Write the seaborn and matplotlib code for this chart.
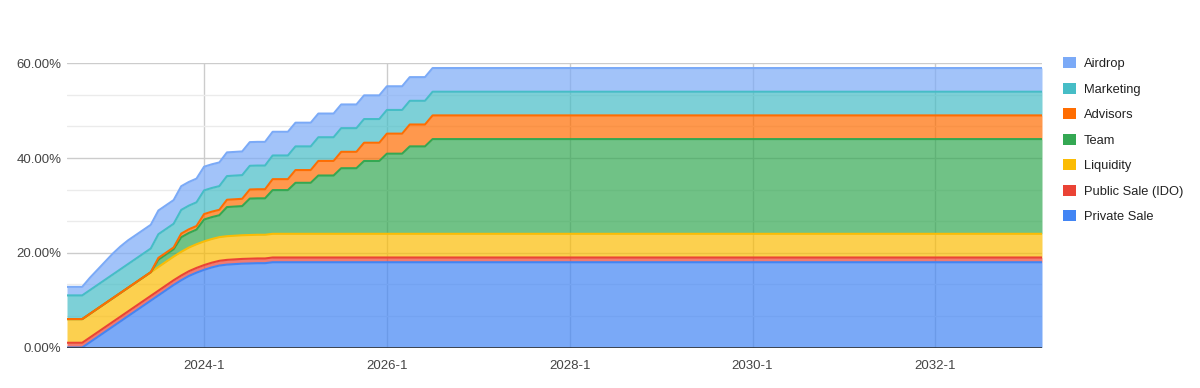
import numpy as np
import pandas as pd
import matplotlib
matplotlib.use("Agg")
import matplotlib.pyplot as plt
from matplotlib.patches import Patch
from matplotlib.ticker import FuncFormatter, MultipleLocator
import seaborn as sns

# Token unlock schedule, cumulative % of total supply per month (2022-7 .. 2033-3)
months = [f"{p.year}-{p.month}" for p in pd.period_range("2022-07", "2033-03", freq="M")]

private_sale = [0.0, 0.0, 0.0, 1.1, 2.2, 3.3, 4.4, 5.5, 6.6, 7.7, 8.8, 9.9,
                11.0, 12.1, 13.2, 14.2, 15.1, 15.8, 16.4, 16.9, 17.3, 17.5, 17.6, 17.7,
                17.75, 17.8, 17.8] + [18.0] * 102
public_sale = [1.0] * 129
liquidity = [5.0] * 129
team = ([0.0] * 12 + [1.54] * 3 + [3.08] * 3 + [4.62] * 3 + [6.15] * 3 + [7.69] * 3
        + [9.23] * 3 + [10.77] * 3 + [12.31] * 3 + [13.85] * 3 + [15.38] * 3
        + [16.92] * 3 + [18.46] * 3 + [20.0] * 81)
advisors = ([0.0] * 12 + [0.38] * 3 + [0.77] * 3 + [1.15] * 3 + [1.54] * 3 + [1.92] * 3
            + [2.31] * 3 + [2.69] * 3 + [3.08] * 3 + [3.46] * 3 + [3.85] * 3
            + [4.23] * 3 + [4.62] * 3 + [5.0] * 81)
marketing = [5.0] * 129
airdrop = [1.8, 1.8, 1.8, 2.6, 3.2, 3.8, 4.4, 4.8] + [5.0] * 121

series_names = ["Private Sale", "Public Sale (IDO)", "Liquidity", "Team",
                "Advisors", "Marketing", "Airdrop"]
series_values = [private_sale, public_sale, liquidity, team, advisors, marketing, airdrop]
colors = ["#4285F4", "#EA4335", "#FBBC04", "#34A853", "#FF6D01", "#46BDC6", "#7BAAF7"]
xtick_labels = ["2024-1", "2026-1", "2028-1", "2030-1", "2032-1"]

sns.set_theme(style="white")
plt.rcParams["font.family"] = ["Liberation Sans", "DejaVu Sans"]

x = np.arange(len(months))
tops = np.cumsum(np.array(series_values), axis=0)
bottoms = np.vstack([np.zeros(len(months)), tops[:-1]])

long_df = pd.DataFrame({
    "idx": np.tile(x, len(series_names)),
    "top": tops.ravel(),
    "series": np.repeat(series_names, len(months)),
})

fig = plt.figure(figsize=(12, 3.88), dpi=100)
ax = fig.add_axes([67 / 1200, 1 - 347.5 / 388, (1042 - 67) / 1200, (347.5 - 63.3) / 388])

for i, name in enumerate(series_names):
    ax.fill_between(x, bottoms[i], tops[i], color=colors[i], alpha=0.7, lw=0, zorder=2)

sns.lineplot(data=long_df, x="idx", y="top", hue="series", hue_order=series_names,
             palette=colors, linewidth=1.5, legend=False, ax=ax, zorder=3)

ax.set_xlim(0, len(months) - 1)
ax.set_ylim(0, 60)
ax.yaxis.set_major_locator(MultipleLocator(20))
ax.yaxis.set_minor_locator(MultipleLocator(20 / 3))
ax.yaxis.set_major_formatter(FuncFormatter(lambda v, p: f"{v:.2f}%"))
ax.set_xticks([months.index(m) for m in xtick_labels])
ax.set_xticklabels(xtick_labels)
ax.set_xlabel("")
ax.set_ylabel("")

ax.grid(which="major", axis="both", color="#cccccc", lw=1, zorder=0)
ax.grid(which="minor", axis="y", color="#ebebeb", lw=1, zorder=0)
ax.set_axisbelow(True)
for s in ax.spines.values():
    s.set_visible(False)
ax.axhline(0, color="#333333", lw=1.2, zorder=4)
ax.tick_params(axis="both", which="both", length=0, labelsize=9.5, colors="#444444")
ax.tick_params(axis="y", pad=4)
ax.tick_params(axis="x", pad=9)

handles = [Patch(facecolor=c, edgecolor="none", label=n)
           for n, c in zip(series_names[::-1], colors[::-1])]
fig.legend(handles=handles, loc="upper left", bbox_to_anchor=(1063 / 1200, 1 - 57.5 / 388),
           frameon=False, fontsize=9.3, handlelength=0.98, handleheight=0.93,
           handletextpad=0.62, labelspacing=0.97, borderpad=0, borderaxespad=0,
           labelcolor="#222222")

fig.savefig("out.png", dpi=100)
